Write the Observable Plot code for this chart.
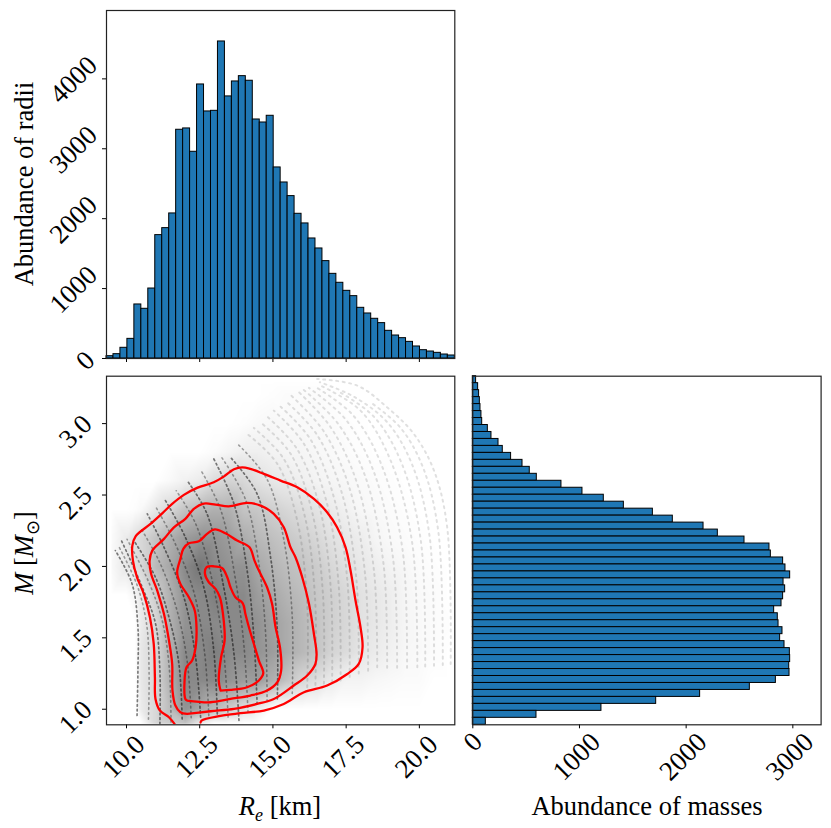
<!DOCTYPE html>
<html>
<head>
<meta charset="utf-8">
<script src="https://cdn.jsdelivr.net/npm/d3@7"></script>
<script src="https://cdn.jsdelivr.net/npm/@observablehq/plot@0.6"></script>
<style>
html,body{margin:0;padding:0;background:#fff;}
#page{position:relative;width:831px;height:828px;overflow:hidden;font-family:"Liberation Serif",serif;color:#000;}
#page svg{position:absolute;background:transparent;font-family:"Liberation Serif",serif;overflow:visible;}
.t{position:absolute;font-size:26.5px;white-space:nowrap;line-height:1;transform:translate(-50%,-50%);}
.t sub{font-size:18px;line-height:0;}
</style>
</head>
<body>
<div id="page"></div>
<script>
// ---------- data ----------
const radiusDomain = [9.317, 21.21];
const massDomain = [0.891, 3.332];
const radiusCounts = [33,62,153,281,773,711,1001,1765,1865,2075,3272,3291,2957,3920,3534,3543,4535,3749,3963,4039,3973,3419,3376,3472,2733,2518,2323,2070,1932,1717,1574,1393,1211,1083,968,892,725,644,568,506,396,329,291,238,172,119,100,81,57,43];
// listed from the highest mass bin down
const massCounts = [31,50,59,66,72,81,88,141,175,241,281,359,466,534,600,831,1028,1228,1416,1688,1875,2163,2297,2547,2781,2794,2909,2931,2975,2913,2928,2909,2894,2825,2859,2866,2903,2881,2922,2972,2975,2966,2969,2841,2597,2131,1719,1206,597,122];
const radiusTicks = [10,12.5,15,17.5,20];
const massTicks = [1,1.5,2,2.5,3];
const radiusCountTicks = [1000,2000,3000,4000];
const massCountTicks = [1000,2000,3000];

const contour1 = [[12.53,.907],[12.56,.921],[13.21,.953],[13.89,.972],[14.69,.991],[15.37,1.037],[16.06,1.119],[16.85,1.166],[17.54,1.247],[17.93,1.317],[18.06,1.434],[17.99,1.574],[17.82,1.761],[17.65,1.971],[17.48,2.134],[17.19,2.274],[16.85,2.379],[16.40,2.473],[15.83,2.554],[15.26,2.601],[14.69,2.648],[14.23,2.683],[13.95,2.694],[13.67,2.680],[13.32,2.629],[12.98,2.589],[12.41,2.550],[11.96,2.501],[11.56,2.438],[11.22,2.372],[10.82,2.298],[10.31,2.211],[10.20,2.146],[10.22,2.041],[10.36,1.924],[10.59,1.808],[10.80,1.644],[10.93,1.457],[10.97,1.224],[10.99,1.072],[11.14,.991],[11.45,.944],[11.64,.897]];
const contour2 = [[12.07,.967],[12.87,.986],[13.67,1.002],[14.46,1.037],[15.03,1.072],[15.71,1.166],[16.17,1.236],[16.45,1.317],[16.49,1.387],[16.40,1.527],[16.23,1.738],[16.00,1.924],[15.77,2.064],[15.60,2.134],[15.37,2.274],[15.03,2.368],[14.58,2.426],[14.12,2.445],[13.49,2.421],[13.04,2.433],[12.64,2.440],[12.30,2.403],[12.01,2.333],[11.62,2.274],[11.28,2.193],[10.88,2.111],[10.79,2.041],[10.84,1.948],[11.05,1.831],[11.28,1.667],[11.45,1.481],[11.56,1.317],[11.57,1.131],[11.67,1.026],[11.84,.979],[12.07,.967]];
const contour3 = [[12.07,1.061],[12.87,1.049],[13.55,1.072],[14.23,1.096],[14.80,1.131],[15.15,1.189],[15.28,1.271],[15.24,1.434],[15.09,1.574],[14.97,1.738],[14.80,1.854],[14.52,1.971],[14.37,2.041],[14.20,2.134],[13.78,2.181],[13.38,2.232],[13.02,2.260],[12.75,2.228],[12.47,2.176],[12.13,2.162],[11.94,2.123],[11.84,2.053],[11.73,1.959],[11.84,1.878],[12.13,1.784],[12.33,1.691],[12.39,1.574],[12.36,1.434],[12.24,1.341],[12.05,1.294],[11.98,1.189],[12.01,1.072],[12.07,1.061]];
const contour4 = [[13.21,1.131],[13.55,1.135],[14.12,1.154],[14.52,1.201],[14.67,1.252],[14.52,1.341],[14.35,1.457],[14.18,1.574],[14.06,1.667],[13.97,1.742],[13.72,1.784],[13.55,1.854],[13.44,1.924],[13.27,1.987],[12.98,2.001],[12.73,1.994],[12.68,1.948],[12.81,1.889],[13.04,1.843],[13.19,1.784],[13.32,1.621],[13.35,1.481],[13.23,1.364],[13.15,1.201],[13.21,1.131]];

// darkness of the point cloud, estimated on a coarse grid
const cloudRadii = [9.5,10,10.3,10.5,11,11.5,12,12.5,13,13.5,14,14.5,15,15.5,16,16.5,17,17.5,18,18.5,19,19.5,20,20.5,21];
const cloudMasses = [0.9,1.0,1.2,1.4,1.6,1.8,2.0,2.2,2.4,2.6,2.8,3.0,3.2,3.3];
const cloudRows = [
 [0,0,0,0,.2,.25,.3,.1,0,0,0,0,0,0,0,0,0,0,0,0,0,0,0,0,0],
 [0,0,0,.1,.2,.35,.55,.45,.35,.25,.15,.08,0,0,0,0,0,0,0,0,0,0,0,0,0],
 [0,0,0,.12,.2,.4,.6,.6,.6,.55,.5,.5,.4,.3,.2,.16,.1,.06,.06,.04,.03,.02,.02,0,0],
 [0,0,0,.12,.2,.4,.6,.6,.65,.6,.6,.55,.5,.42,.36,.3,.22,.18,.13,.1,.07,.04,.03,.02,0],
 [0,0,0,.1,.2,.4,.55,.6,.6,.6,.6,.55,.48,.42,.36,.3,.24,.2,.15,.12,.09,.05,.03,.02,.01],
 [0,0,.05,.12,.25,.4,.55,.6,.65,.6,.6,.5,.44,.38,.34,.28,.24,.2,.15,.12,.09,.05,.03,.02,0],
 [.03,.12,.16,.2,.35,.45,.6,.7,.6,.55,.55,.44,.38,.33,.3,.26,.2,.16,.12,.09,.06,.04,.02,.01,0],
 [.02,.1,.16,.2,.3,.4,.5,.55,.55,.5,.42,.36,.32,.28,.24,.2,.15,.12,.09,.05,.03,.02,.01,0,0],
 [0,0,.01,.03,.12,.2,.3,.35,.4,.4,.3,.28,.24,.2,.17,.14,.1,.07,.04,.03,.02,.01,0,0,0],
 [0,0,0,0,0,.03,.07,.1,.18,.22,.2,.15,.12,.1,.08,.06,.05,.04,.03,.02,.01,0,0,0,0],
 [0,0,0,0,0,0,0,0,.02,.05,.08,.08,.06,.05,.05,.04,.03,.02,.01,0,0,0,0,0,0],
 [0,0,0,0,0,0,0,0,0,0,.01,.03,.04,.03,.03,.03,.02,.01,.005,0,0,0,0,0,0],
 [0,0,0,0,0,0,0,0,0,0,0,0,.01,.02,.02,.02,.01,0,0,0,0,0,0,0,0],
 [0,0,0,0,0,0,0,0,0,0,0,0,0,0,0,0,0,0,0,0,0,0,0,0,0]
];
// visible dotted mass-radius tracks in the cloud
const darkTracks = [
 [[10.36,.956],[10.39,1.27],[10.39,1.574],[10.19,1.878],[9.62,2.111]],
 [[11.14,.897],[11.14,1.27],[10.99,1.60],[10.54,1.854],[9.80,2.193]],
 [[11.90,.932],[11.79,1.317],[11.45,1.644],[10.99,1.924],[10.25,2.181]],
 [[12.53,.944],[12.36,1.364],[11.96,1.784],[11.28,2.134],[10.71,2.368]],
 [[13.10,.967],[12.98,1.411],[12.64,1.854],[12.01,2.204],[11.33,2.461]],
 [[13.84,.921],[13.67,1.387],[13.32,1.854],[12.75,2.368],[12.07,2.601]],
 [[14.46,1.037],[14.35,1.504],[14.12,1.971],[13.67,2.438],[12.98,2.753]],
 [[15.15,1.072],[15.15,1.551],[14.92,2.064],[14.46,2.508],[13.55,2.764]]
];
const midTracks = [
 [[10.75,.93],[10.77,1.27],[10.69,1.59],[10.36,1.87],[9.71,2.15]],
 [[11.52,.91],[11.46,1.29],[11.22,1.62],[10.76,1.89],[10.02,2.19]],
 [[12.21,.94],[12.07,1.34],[11.70,1.71],[11.13,2.03],[10.48,2.27]],
 [[12.81,.955],[12.67,1.39],[12.30,1.82],[11.64,2.17],[11.02,2.41]],
 [[13.47,.945],[13.32,1.40],[12.98,1.85],[12.38,2.29],[11.70,2.53]],
 [[14.15,.98],[14.01,1.445],[13.72,1.91],[13.21,2.40],[12.52,2.68]],
 [[14.80,1.055],[14.75,1.53],[14.52,2.02],[14.06,2.47],[13.26,2.76]],
 [[15.66,1.11],[15.66,1.645],[15.37,2.19],[14.80,2.61],[13.83,2.85]]
];
const faintTracks = [
 [[16.17,1.154],[16.17,1.738],[15.83,2.321],[15.15,2.718],[14.12,2.928]],
 [[16.45,1.17],[16.44,1.77],[16.09,2.35],[15.38,2.75],[14.35,2.97]],
 [[16.74,1.18],[16.71,1.80],[16.34,2.38],[15.60,2.79],[14.57,3.01]],
 [[17.02,1.19],[16.98,1.83],[16.6,2.41],[15.83,2.82],[14.8,3.05]],
 [[17.31,1.201],[17.25,1.854],[16.85,2.438],[16.06,2.858],[15.03,3.091]],
 [[17.62,1.225],[17.55,1.88],[17.1,2.47],[16.28,2.89],[15.23,3.125]],
 [[17.93,1.25],[17.85,1.91],[17.36,2.51],[16.51,2.92],[15.43,3.16]],
 [[18.25,1.27],[18.15,1.94],[17.62,2.545],[16.74,2.945],[15.63,3.195]],
 [[18.56,1.294],[18.45,1.971],[17.88,2.578],[16.97,2.975],[15.83,3.231]],
 [[18.9,1.29],[18.78,2.01],[18.17,2.62],[17.22,3.0],[16.03,3.24]],
 [[19.24,1.29],[19.10,2.06],[18.45,2.66],[17.48,3.03],[16.23,3.25]],
 [[19.58,1.29],[19.43,2.11],[18.73,2.70],[17.73,3.06],[16.43,3.26]],
 [[19.93,1.294],[19.76,2.158],[19.02,2.741],[17.99,3.091],[16.63,3.266]],
 [[20.2,1.30],[20.05,2.18],[19.39,2.725],[18.44,3.05],[17.2,3.23]],
 [[20.5,1.305],[20.35,2.21],[19.76,2.71],[18.90,3.01],[17.75,3.19],[16.6,3.29]],
 [[20.8,1.31],[20.65,2.24],[20.13,2.69],[19.36,2.97],[18.33,3.15]],
 [[21.07,1.317],[20.95,2.274],[20.50,2.671],[19.81,2.928],[18.90,3.114],[17.88,3.266],[16.51,3.313]]
];

// ---------- tables built from the arrays ----------
const binStepR = (radiusDomain[1]-radiusDomain[0])/radiusCounts.length;
const radiusBars = radiusCounts.map((c,i)=>({x1:radiusDomain[0]+i*binStepR,x2:radiusDomain[0]+(i+1)*binStepR,c}));
const binStepM = (massDomain[1]-massDomain[0])/massCounts.length;
const massBars = massCounts.map((c,i)=>({y2:massDomain[1]-i*binStepM,y1:massDomain[1]-(i+1)*binStepM,c}));
const cloud = cloudRows.flatMap((row,j)=>row.map((d,i)=>({r:cloudRadii[i],m:cloudMasses[j],d})));
const toPts = arr => arr.map(([r,m])=>({r,m}));
const trackLine = (t,o) => Plot.line(toPts(t),{x:"r",y:"m",curve:"catmull-rom",clip:true,...o});

const FONT = 27;
const blue = "#1f77b4";
function yLabels(ticks, fmt, padding, dy){
  return [
    Plot.axisY({ticks, anchor:"left", tickSize:4, fill:"none", label:null, stroke:"#000"}),
    Plot.axisY({ticks, anchor:"left", tickSize:0, tickPadding:padding, dy, tickRotate:-45, textAnchor:"middle", lineAnchor:"middle", fontSize:FONT, tickFormat:fmt, label:null, fill:"#000"})
  ];
}
function xLabels(ticks, fmt, padding, dx){
  return [
    Plot.axisX({ticks, anchor:"bottom", tickSize:4, fill:"none", label:null, stroke:"#000"}),
    Plot.axisX({ticks, anchor:"bottom", tickSize:0, tickPadding:padding, dx, tickRotate:-45, textAnchor:"middle", lineAnchor:"middle", fontSize:FONT, tickFormat:fmt, label:null, fill:"#000"})
  ];
}
const f1 = d=>d.toFixed(1);
const f0 = d=>String(d);
const spine = ()=>Plot.frame({stroke:"#222",strokeWidth:1.2});

const page = document.getElementById("page");
function place(svg,left,top){svg.style.left=left+"px";svg.style.top=top+"px";page.appendChild(svg);}

// top: radius histogram
place(Plot.plot({
  width:460,height:385,marginLeft:106,marginRight:5.7,marginTop:10,marginBottom:27,
  x:{domain:radiusDomain},y:{domain:[0,4978]},
  style:{background:"transparent"},
  marks:[
    Plot.rect(radiusBars,{x1:"x1",x2:"x2",y1:0,y2:"c",fill:blue,stroke:"#000",strokeWidth:1}),
    Plot.axisX({ticks:radiusTicks,anchor:"bottom",tickSize:4,fill:"none",label:null,stroke:"#000"}),
    ...yLabels(radiusCountTicks,f0,33,1),
    ...yLabels([0],f0,21,2),
    spine()
  ]
}),0,0);

// bottom left: cloud + contours
place(Plot.plot({
  width:460,height:458,marginLeft:106,marginRight:5.7,marginTop:5.7,marginBottom:103.7,
  x:{domain:radiusDomain},y:{domain:massDomain},
  color:{type:"linear",domain:[0,1.3],range:["#ffffff","#000000"]},
  style:{background:"transparent"},
  marks:[
    Plot.raster(cloud,{x:"r",y:"m",fill:"d",interpolate:"barycentric"}),
    ...faintTracks.map(t=>trackLine(t,{stroke:"#000",strokeOpacity:.12,strokeWidth:2,strokeDasharray:"2 4.5"})),
    ...midTracks.map(t=>trackLine(t,{stroke:"#000",strokeOpacity:.35,strokeWidth:1.6,strokeDasharray:"1.6 3.4"})),
    ...darkTracks.map(t=>trackLine(t,{stroke:"#000",strokeOpacity:.5,strokeWidth:1.7,strokeDasharray:"1.7 3"})),
    ...[contour1,contour2,contour3,contour4].map(c=>trackLine(c,{stroke:"#ff0000",strokeWidth:2.3})),
    ...yLabels(massTicks,f1,31,8),
    ...xLabels(radiusTicks,f1,32,-3),
    spine()
  ]
}),0,370);

// bottom right: mass histogram
place(Plot.plot({
  width:391,height:458,marginLeft:32.3,marginRight:10.4,marginTop:5.7,marginBottom:103.7,
  x:{domain:[0,3265]},y:{domain:massDomain,axis:null},
  style:{background:"transparent"},
  marks:[
    Plot.rect(massBars,{x1:0,x2:"c",y1:"y1",y2:"y2",fill:blue,stroke:"#000",strokeWidth:1}),
    ...xLabels(massCountTicks,f0,32,-3),
    ...xLabels([0],f0,17,0),
    spine()
  ]
}),440,370);

// axis titles
function title(html,x,y,rot){
  const d=document.createElement("div");
  d.className="t";d.innerHTML=html;d.style.left=x+"px";d.style.top=y+"px";
  if(rot) d.style.transform=`translate(-50%,-50%) rotate(${rot}deg)`;
  page.appendChild(d);
}
title("Abundance of radii",24,184,-90);
title('<i>M</i> [<i>M</i><sub>⊙</sub>]',24,553,-90);
title('<i>R</i><sub><i>e</i></sub> [km]',280,806);
title("Abundance of masses",647,806);
</script>
</body>
</html>
